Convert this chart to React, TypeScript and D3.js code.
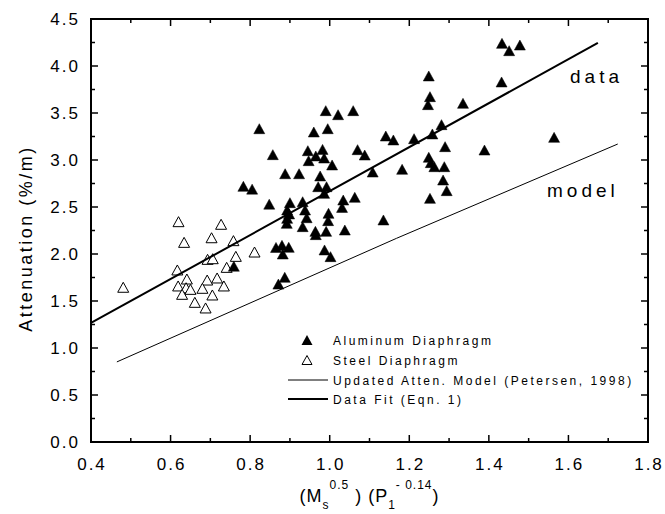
import React from "react";
import * as d3 from "d3";

// Aluminum diaphragm measurements [x, attenuation]
const aluminumX = [0.783,0.805,0.848,0.865,0.759,0.871,
  0.990,1.021,1.059,0.823,0.960,0.995,1.141,1.160,0.857,0.945,0.965,0.982,0.986,0.947,1.070,1.088,1.006,0.888,0.923,0.976,1.108,1.182,0.971,0.992,0.986,
  1.034,1.063,0.900,0.932,0.893,0.938,1.031,0.898,0.997,0.942,0.893,1.135,0.892,0.996,0.932,0.991,1.038,0.964,0.965,0.880,0.897,0.882,0.987,1.002,0.887,
  1.433,1.478,1.451,1.249,1.432,1.252,1.247,1.335,1.281,1.212,1.258,1.564,1.290,1.389,1.249,1.254,1.263,1.288,1.285,1.294,1.252];
const aluminumY = [2.72,2.69,2.53,2.07,1.87,1.68,
  3.525,3.482,3.525,3.333,3.298,3.333,3.255,3.213,3.057,3.099,3.043,3.113,3.021,2.993,3.110,3.053,2.947,2.854,2.854,2.830,2.872,2.901,2.716,2.716,2.645,
  2.574,2.603,2.546,2.556,2.468,2.468,2.496,2.426,2.433,2.386,2.379,2.362,2.326,2.355,2.291,2.241,2.255,2.241,2.206,2.092,2.071,2.000,2.043,1.972,1.752,
  4.241,4.223,4.163,3.894,3.830,3.674,3.589,3.603,3.376,3.227,3.277,3.241,3.142,3.106,3.029,2.972,2.929,2.929,2.787,2.674,2.592];

// Steel diaphragm measurements
const steelX = [0.481,0.620,0.727,0.634,0.703,0.758,0.811,0.693,0.706,0.764,0.741,0.617,0.641,0.692,0.717,0.619,0.639,0.650,0.680,0.734,0.629,0.705,0.661,0.688];
const steelY = [1.646,2.344,2.316,2.124,2.173,2.142,2.021,1.943,1.950,1.975,1.858,1.830,1.734,1.723,1.745,1.660,1.641,1.624,1.635,1.660,1.571,1.564,1.486,1.426];

// Lines
const fitX = [0.4, 1.674];
const fitY = [1.266, 4.245];
const modelX = [0.465, 1.168, 1.724];
const modelY = [0.852, 2.167, 3.17];

const xMajor = [0.4, 0.6, 0.8, 1.0, 1.2, 1.4, 1.6, 1.8];
const xMinor = [0.5, 0.7, 0.9, 1.1, 1.3, 1.5, 1.7];
const yMajor = [0, 0.5, 1, 1.5, 2, 2.5, 3, 3.5, 4, 4.5];
const yMinor = [0.25, 0.75, 1.25, 1.75, 2.25, 2.75, 3.25, 3.75, 4.25];

const legendLabels = ["Aluminum Diaphragm", "Steel Diaphragm", "Updated Atten. Model (Petersen, 1998)", "Data Fit (Eqn. 1)"];

const FONT = "'Liberation Sans', Arial, Helvetica, sans-serif";

const L = 91, R = 648, T = 19, B = 442;

function tri(cx: number, cy: number, w = 11, h = 10) {
  return `M${cx},${cy - h / 2}L${cx + w / 2},${cy + h / 2}L${cx - w / 2},${cy + h / 2}Z`;
}

export default function App() {
  const x = d3.scaleLinear().domain([0.4, 1.8]).range([L, R]);
  const y = d3.scaleLinear().domain([0, 4.5]).range([B, T]);
  const fmt = d3.format(".1f");
  const line = d3.line<[number, number]>().x(d => x(d[0])).y(d => y(d[1]));
  const fitPts = fitX.map((v, i) => [v, fitY[i]] as [number, number]);
  const modelPts = modelX.map((v, i) => [v, modelY[i]] as [number, number]);
  const maj = 7, mnr = 4;

  const legendRows = [340, 360, 380, 399];

  return (
    <svg width={665} height={514} style={{ position: "absolute", left: 0, top: 0, background: "#fff" }}
      fontFamily={FONT}>
      <rect x={0} y={0} width={665} height={514} fill="#fff" />
      {/* markers */}
      {steelX.map((v, i) => (
        <path key={"s" + i} d={tri(x(v), y(steelY[i]))} fill="#fff" stroke="#000" strokeWidth={1} />
      ))}
      {aluminumX.map((v, i) => (
        <path key={"a" + i} d={tri(x(v), y(aluminumY[i]))} fill="#000" stroke="#000" strokeWidth={0.5} />
      ))}
      {/* lines */}
      <path d={line(modelPts) || ""} fill="none" stroke="#000" strokeWidth={1} />
      <path d={line(fitPts) || ""} fill="none" stroke="#000" strokeWidth={2} />

      {/* frame */}
      <rect x={L} y={T} width={R - L} height={B - T} fill="none" stroke="#000" strokeWidth={2} />
      {/* ticks */}
      {xMajor.map(v => (
        <g key={"xm" + v}>
          <line x1={x(v)} x2={x(v)} y1={B} y2={B - maj} stroke="#000" strokeWidth={1.5} />
          <line x1={x(v)} x2={x(v)} y1={T} y2={T + maj} stroke="#000" strokeWidth={1.5} />
        </g>
      ))}
      {xMinor.map(v => (
        <g key={"xn" + v}>
          <line x1={x(v)} x2={x(v)} y1={B} y2={B - mnr} stroke="#000" strokeWidth={1.5} />
          <line x1={x(v)} x2={x(v)} y1={T} y2={T + mnr} stroke="#000" strokeWidth={1.5} />
        </g>
      ))}
      {yMajor.map(v => (
        <g key={"ym" + v}>
          <line x1={L} x2={L + maj} y1={y(v)} y2={y(v)} stroke="#000" strokeWidth={1.5} />
          <line x1={R} x2={R - maj} y1={y(v)} y2={y(v)} stroke="#000" strokeWidth={1.5} />
        </g>
      ))}
      {yMinor.map(v => (
        <g key={"yn" + v}>
          <line x1={L} x2={L + mnr} y1={y(v)} y2={y(v)} stroke="#000" strokeWidth={1.5} />
          <line x1={R} x2={R - mnr} y1={y(v)} y2={y(v)} stroke="#000" strokeWidth={1.5} />
        </g>
      ))}
      {/* tick labels */}
      {xMajor.map(v => (
        <text key={"xl" + v} x={x(v) + 1} y={470} textAnchor="middle" fontSize={17} letterSpacing={2} fill="#000">{fmt(v)}</text>
      ))}
      {yMajor.map(v => (
        <text key={"yl" + v} x={80} y={y(v) + 6} textAnchor="end" fontSize={17} letterSpacing={2} fill="#000">{fmt(v)}</text>
      ))}
      {/* axis titles */}
      <text transform={`translate(32,${(T + B) / 2 + 8}) rotate(-90)`} textAnchor="middle" fontSize={18} letterSpacing={2.5} fill="#000">Attenuation (%/m)</text>
      <text x={(L + R) / 2} y={502} textAnchor="middle" fontSize={18} fill="#000" letterSpacing={1}>
        <tspan>(M</tspan>
        <tspan fontSize={12} dy={7}>s</tspan>
        <tspan fontSize={12} dy={-20}>0.5</tspan>
        <tspan dy={13}> ) (P</tspan>
        <tspan fontSize={12} dy={7}>1</tspan>
        <tspan fontSize={12} dy={-20}>- 0.14</tspan>
        <tspan dy={13}>)</tspan>
      </text>
      {/* annotations */}
      <text x={570} y={83} fontSize={19} letterSpacing={4} fill="#000">data</text>
      <text x={547} y={197} fontSize={19} letterSpacing={4} fill="#000">model</text>

      {/* legend */}
      <path d={tri(307, legendRows[0])} fill="#000" />
      <path d={tri(307, legendRows[1], 10, 9)} fill="#fff" stroke="#000" strokeWidth={1} />
      <line x1={288} x2={328} y1={legendRows[2]} y2={legendRows[2]} stroke="#000" strokeWidth={1} />
      <line x1={288} x2={328} y1={legendRows[3]} y2={legendRows[3]} stroke="#000" strokeWidth={2} />
      {legendLabels.map((t, i) => (
        <text key={t} x={333} y={legendRows[i] + 4.5} fontSize={12} letterSpacing={2.5} fill="#000">{t}</text>
      ))}
    </svg>
  );
}
